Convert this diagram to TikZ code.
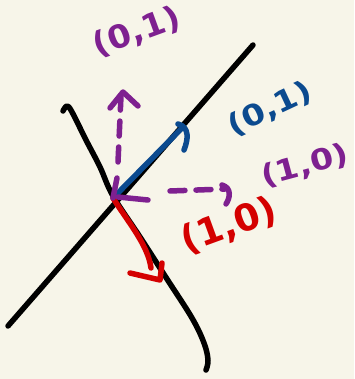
\documentclass[tikz,border=0pt]{standalone}
\usepackage{fontspec}
\setsansfont{DejaVu Sans}
\usepackage{xcolor}
\usepackage{tikz}
\usetikzlibrary{calc}

\definecolor{paper}{HTML}{F7F5E9}
\definecolor{penpurple}{HTML}{7E2090}
\definecolor{penblue}{HTML}{0B4A8F}
\definecolor{penred}{HTML}{D40000}

\begin{document}
\begin{tikzpicture}[
      x=1pt, y=-1pt,
      pen/.style={
        line width=5.5pt,
        line cap=round,
        line join=round
      },
      dashpen/.style={
        pen,
        dash pattern=on 15pt off 11pt
      },
      hand/.style={
        font=\sffamily\bfseries\fontsize{29}{29}\selectfont,
        inner sep=0pt
      }
    ]

    \fill[paper] (0,0) rectangle (354,379);
    \useasboundingbox (0,0) rectangle (354,379);

    % the two black curves
    \coordinate (lineA) at (8,326);
    \coordinate (lineB) at (253,45);
    \draw[pen] (lineA) -- (lineB);
    \draw[pen] plot[smooth, tension=0.6] coordinates {
      (63,111) (67,106) (72,112) (86,140) (100,167) (113,196)
      (140,237) (167,279) (192,318) (204,343) (208,360) (206,370)};

    \coordinate (O) at (113,198);

    % blue tangent
    \coordinate (blueTip) at (182,128);
    \draw[pen, penblue] (O) -- (blueTip);
    \draw[pen, penblue] (178,124) .. controls (190,127) and (188,140) .. (184,150);

    % red tangent along the curve
    \coordinate (redTip) at (160,280);
    \draw[pen, penred] (O) .. controls (128,222) and (148,245) .. (151,268);
    \draw[pen, penred] (130,273) -- (redTip) -- (162,263);

    % purple dashed axes
    \coordinate (upTip) at (123,92);
    \coordinate (rightTip) at (225,189);
    \draw[pen, penpurple] (O) -- (117,178);
    \draw[dashpen, penpurple] (118,162) -- (121,96);
    \draw[pen, penpurple] (110,108) -- (upTip) -- (138,106);
    \draw[pen, penpurple] (118,197) -- (148,200);
    \draw[dashpen, penpurple] (170,191) -- (rightTip);
    \draw[pen, penpurple] (222,185) .. controls (232,188) and (230,198) .. (226,204);

    % labels
    \node[hand, penpurple, rotate=20, xscale=1.05, font=\sffamily\bfseries\fontsize{32}{32}\selectfont]
      (upLabel) at (137,32) {(0,1)};
    \node[hand, penblue, rotate=25, xscale=1.15] (blueLabel) at (270,109) {(0,1)};
    \node[hand, penpurple, rotate=15, xscale=1.15] (rightLabel) at (305,166) {(1,0)};
    \node[hand, penred, rotate=20, font=\sffamily\bfseries\fontsize{37}{37}\selectfont]
      (redLabel) at (229,226) {(1,0)};

    \end{tikzpicture}
\end{document}
